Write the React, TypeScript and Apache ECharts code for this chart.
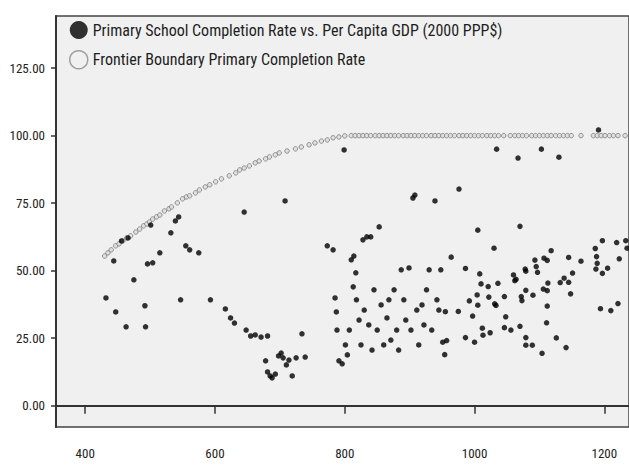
import React, { useEffect, useRef } from "react";
import * as echarts from "echarts";

const seriesNames = [
  "Primary School Completion Rate vs. Per Capita GDP (2000 PPP$)",
  "Frontier Boundary Primary Completion Rate",
];

const yTicks = [0, 25, 50, 75, 100, 125];
const xTicks = [400, 600, 800, 1000, 1200];

// [GDP per capita, completion rate]
const countryPoints: [number, number][] = [
  [432, 39.9], [444, 53.6], [447, 34.7], [456, 61.0], [463, 29.2], [466, 62.1],
  [475, 46.6], [492, 37.0], [493, 29.2], [496, 52.5], [504, 52.9], [501, 66.9],
  [515, 56.6], [532, 64.0], [539, 68.4], [544, 69.9], [547, 39.2], [555, 59.2],
  [561, 57.7], [575, 56.6], [593, 39.2], [616, 35.8], [624, 32.5], [630, 30.6],
  [645, 71.7], [648, 28.0], [655, 25.8], [662, 26.2], [671, 25.4], [681, 25.8],
  [708, 75.8], [734, 26.6],
  [678, 16.6], [681, 12.5], [685, 11.0], [688, 10.3], [693, 11.7], [698, 18.4],
  [702, 19.5], [705, 17.7], [710, 15.1], [714, 16.9], [719, 11.0], [725, 17.7],
  [739, 18.0],
  [773, 59.2], [782, 57.7], [785, 39.9], [787, 34.7], [788, 28.0], [791, 16.6],
  [796, 15.5], [799, 94.7], [801, 22.5], [804, 18.8], [807, 28.0], [810, 54.0],
  [813, 44.0], [814, 55.4], [817, 49.2], [818, 39.2], [822, 31.7], [825, 22.5],
  [828, 61.4], [830, 35.4], [834, 62.5], [837, 29.9], [840, 62.5], [842, 20.6],
  [845, 42.9], [850, 28.0], [853, 66.2], [856, 37.3], [860, 22.5], [865, 32.5],
  [868, 39.2], [871, 24.3], [876, 42.9], [880, 28.0], [883, 20.6], [887, 50.3],
  [891, 39.2], [894, 31.7], [899, 51.0], [902, 28.0], [905, 76.9], [908, 78.0],
  [911, 35.4], [914, 22.5], [919, 37.3], [922, 29.9], [926, 42.9], [930, 50.3],
  [934, 28.0], [939, 75.8], [942, 39.2], [945, 35.4], [948, 50.3],
  [1191, 102.1], [1034, 95.0], [1067, 91.7], [1103, 95.0], [1130, 92.0],
  [976, 80.2], [1005, 65.0], [1070, 66.4], [1030, 58.3], [964, 55.0],
  [986, 50.8], [1008, 48.8], [1010, 45.1], [1021, 44.1], [1036, 45.3],
  [992, 38.8], [1004, 41.0], [1005, 37.2], [1022, 40.2], [1031, 37.7],
  [1033, 37.1], [1046, 40.4], [975, 34.9], [997, 33.2], [1048, 32.9],
  [1060, 48.4], [1062, 46.3], [1064, 46.8], [1078, 50.6], [1079, 49.8],
  [1072, 40.4], [1073, 38.9], [1079, 42.7], [1090, 40.9], [1093, 53.9],
  [1095, 51.5], [1097, 49.4], [1107, 54.6], [1112, 53.8], [1118, 57.4],
  [1113, 45.4], [1106, 43.2], [1112, 42.6], [1112, 36.9], [1111, 30.7],
  [1132, 45.6], [1138, 47.2], [1145, 45.7], [1145, 54.9], [1151, 49.1],
  [1148, 41.4], [1164, 53.5], [1186, 58.2], [1188, 55.2], [1189, 52.7],
  [1187, 50.6], [1197, 61.1], [1197, 49.0], [1205, 50.9], [1219, 60.4],
  [1223, 54.4], [1233, 61.1], [1235, 58.3], [1194, 35.9], [1210, 35.2],
  [1221, 37.8], [1012, 28.7], [1013, 26.1], [1024, 27.0], [1046, 28.9],
  [1056, 28.0], [1070, 29.4], [986, 25.2], [1000, 23.5], [951, 23.5],
  [957, 24.1], [954, 18.9], [1079, 25.2], [1079, 22.4], [1089, 22.4],
  [1104, 19.4], [1126, 25.1], [1141, 21.5], [955, 34.8],
];

const frontierPoints: [number, number][] = [
  [430, 55.4], [435, 56.6], [440, 57.7], [447, 59.2], [452, 59.9], [458, 61.0],
  [464, 62.1], [470, 62.9], [478, 64.3], [484, 65.4], [490, 66.6], [495, 67.3],
  [499, 68.0], [504, 69.1], [510, 69.9], [515, 70.6], [522, 72.1], [529, 72.9],
  [533, 73.6], [542, 75.1], [550, 76.6], [556, 77.3], [561, 77.7], [570, 78.8],
  [576, 79.9], [585, 81.0], [592, 81.8], [601, 82.9], [610, 84.0], [622, 85.1],
  [632, 86.2], [638, 87.3], [645, 88.0], [653, 88.8], [662, 89.9], [668, 90.6],
  [678, 91.4], [684, 92.1], [693, 92.9], [699, 93.6], [711, 94.3], [724, 95.1],
  [733, 95.8], [745, 96.6], [754, 97.3], [764, 98.0], [773, 98.4], [782, 99.2],
  [791, 99.5], [800, 99.9],
  [810, 100], [816, 100], [822, 100], [828, 100], [834, 100], [840, 100],
  [847, 100], [853, 100], [859, 100], [865, 100], [871, 100], [877, 100],
  [883, 100], [890, 100], [896, 100], [902, 100], [908, 100], [914, 100],
  [920, 100], [926, 100], [933, 100], [939, 100], [945, 100], [951, 100],
  [957, 100], [963, 100], [969, 100], [976, 100], [982, 100], [988, 100],
  [994, 100], [1000, 100], [1006, 100], [1012, 100], [1019, 100], [1025, 100],
  [1031, 100], [1037, 100], [1045, 100], [1055, 100], [1062, 100], [1068, 100],
  [1074, 100], [1080, 100], [1088, 100], [1094, 100], [1100, 100], [1106, 100],
  [1112, 100], [1118, 100], [1125, 100], [1131, 100], [1137, 100], [1143, 100],
  [1149, 100], [1164, 100], [1183, 100], [1189, 100], [1195, 100], [1201, 100],
  [1208, 100], [1214, 100], [1221, 100], [1232, 100],
];

const FONT = "'Roboto Condensed', 'Liberation Sans Narrow', 'Arial Narrow', sans-serif";

export default function App() {
  const ref = useRef<HTMLDivElement>(null);
  useEffect(() => {
    if (!ref.current) return;
    const chart = echarts.init(ref.current, null, { renderer: "svg" });
    chart.setOption({
      animation: false,
      backgroundColor: "#ffffff",
      grid: {
        left: 56,
        top: 16,
        right: -2,
        bottom: 39,
        show: true,
        backgroundColor: "#f0f0f0",
        borderColor: "#444",
        borderWidth: 1.5,
      },
      legend: {
        orient: "vertical",
        left: 69,
        top: 21,
        padding: 0,
        itemWidth: 18,
        itemHeight: 18,
        itemGap: 11,
        textStyle: { fontFamily: FONT, fontSize: 16, lineHeight: 18, color: "#1e1e1e" },
        data: [
          { name: seriesNames[0], icon: "circle", itemStyle: { color: "#000" } },
          {
            name: seriesNames[1],
            icon: "circle",
            itemStyle: { color: "#f0f0f0", borderColor: "#8a8a8a", borderWidth: 1.5 },
          },
        ],
      },
      xAxis: {
        type: "value",
        min: 355,
        max: 1238,
        splitLine: { show: false },
        axisLine: { show: true, lineStyle: { color: "#333", width: 2 } },
        axisTick: {
          show: true,
          length: 8,
          lineStyle: { color: "#333", width: 1.5 },
          customValues: xTicks,
        },
        axisLabel: {
          margin: 20,
          fontFamily: FONT,
          fontSize: 13,
          color: "#222",
          customValues: xTicks,
          formatter: (v: number) => String(v),
        },
      },
      yAxis: {
        type: "value",
        min: -7.9,
        max: 144.3,
        splitLine: { show: false },
        axisLine: { show: true, lineStyle: { color: "#333", width: 2 } },
        axisTick: {
          show: true,
          length: 5,
          lineStyle: { color: "#333", width: 1.5 },
          customValues: yTicks,
        },
        axisLabel: {
          margin: 11,
          fontFamily: FONT,
          fontSize: 13,
          color: "#222",
          customValues: yTicks,
          formatter: (v: number) => v.toFixed(2),
        },
      },
      series: [
        {
          name: seriesNames[1],
          type: "scatter",
          data: frontierPoints,
          symbol: "circle",
          symbolSize: 4.5,
          itemStyle: { color: "#dcdcdc", borderColor: "#7c7c7c", borderWidth: 1 },
          z: 2,
        },
        {
          name: seriesNames[0],
          type: "scatter",
          data: countryPoints,
          symbol: "circle",
          symbolSize: 5.5,
          itemStyle: { color: "#000" },
          z: 3,
        },
      ],
    });
    return () => chart.dispose();
  }, []);
  return (
    <div
      ref={ref}
      style={{ position: "absolute", left: 0, top: 0, width: 629, height: 466 }}
    />
  );
}
